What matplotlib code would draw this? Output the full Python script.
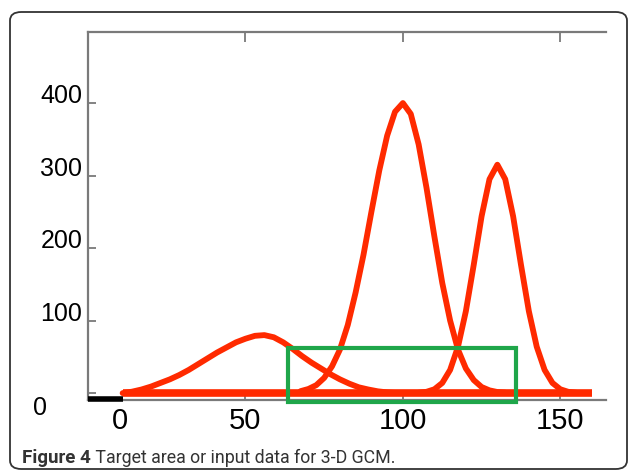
#Figura 4: area objetivo / datos de entrada para 3-D GCM

import matplotlib
matplotlib.use('Agg')
import matplotlib.pyplot as plt
from matplotlib.patches import FancyBboxPatch, Rectangle
from matplotlib.transforms import ScaledTranslation

# curva pequena (pico ~56)
x_chica = [11, 14, 17, 20, 23, 26, 29, 32, 35, 38, 41, 44, 47, 50, 53, 56, 59,
           62, 65, 68, 71, 74, 77, 80, 83, 86, 89, 92, 95, 98]
y_chica = [0, 2, 5, 9, 14, 19, 25, 32, 40, 48, 56, 63, 70, 75, 79, 80, 77,
           70, 61, 51, 42, 34, 26, 19, 13, 8, 5, 2.5, 1, 0]

# curva grande (pico 400 en 100)
x_grande = [67.5, 70, 72.5, 75, 77.5, 80, 82.5, 85, 87.5, 90, 92.5, 95, 97.5, 100,
            102.5, 105, 107.5, 110, 112.5, 115, 117.5, 120, 122.5, 125, 127.5, 130, 132.5]
y_grande = [2.7, 5.7, 11, 21, 37, 60, 94, 139, 191, 250, 307, 355, 388, 400,
            385, 343, 283, 216, 152, 100, 60, 34, 18, 8.4, 3.8, 1.5, 0.6]

# tercera curva (pico ~315 en 130)
x_tercera = [105, 107.5, 110, 112.5, 115, 117.5, 120, 122.5, 125, 127.5, 130,
             132.5, 135, 137.5, 140, 142.5, 145, 147.5, 150, 152.5, 155]
y_tercera = [0.5, 1.8, 5.3, 14, 32, 64, 113, 177, 244, 295, 315,
             295, 244, 177, 113, 64, 32, 14, 5.3, 1.8, 0.5]

# linea base
x_base = [11, 160]
y_base = [0, 0]
x_negra = [0, 11]
y_negra = [-8, -8]

# rectangulo verde (area objetivo)
rect_x0, rect_x1 = 63.5, 136
rect_y0, rect_y1 = -12, 62

xticks = [0, 50, 100, 150]
yticks = [0, 100, 200, 300, 400]

rojo = '#ff2a00'
verde = '#1fa64a'
gris = '#7a7a7a'

fig = plt.figure(figsize=(6.29, 4.74), dpi=100)

# marco redondeado
marco = FancyBboxPatch((10 / 629, 5 / 474), 617 / 629, 457 / 474,
                       boxstyle='round,pad=0,rounding_size=0.018',
                       transform=fig.transFigure, fill=False,
                       edgecolor='#333333', linewidth=1.3)
fig.patches.append(marco)

ax = fig.add_axes([88 / 629, 1 - 400 / 474, 518 / 629, 368 / 474])
ax.set_xlim(0, 164.5)
ax.set_ylim(-9.5, 498)

ax.plot(x_base, y_base, color=rojo, linewidth=5.5, solid_capstyle='butt', zorder=3)
ax.plot(x_negra, y_negra, color='black', linewidth=4, solid_capstyle='butt',
        clip_on=False, zorder=3)
for xs, ys in [(x_chica, y_chica), (x_grande, y_grande), (x_tercera, y_tercera)]:
    ax.plot(xs, ys, color=rojo, linewidth=4.2, solid_joinstyle='round',
            solid_capstyle='round', zorder=3)

ax.add_patch(Rectangle((rect_x0, rect_y0), rect_x1 - rect_x0, rect_y1 - rect_y0,
                       fill=False, edgecolor=verde, linewidth=3, clip_on=False,
                       zorder=4))

ax.spines['right'].set_visible(False)
for s in ['left', 'top', 'bottom']:
    ax.spines[s].set_color(gris)
    ax.spines[s].set_linewidth(1.6)

ax.set_xticks(xticks)
ax.set_xticklabels([str(v) for v in xticks])
ax.set_yticks(yticks)
ax.set_yticklabels([str(v) for v in yticks])
ax.tick_params(axis='x', direction='in', top=True, length=7, width=1.3,
               color=gris, labelsize=21, pad=5)
ax.tick_params(axis='y', direction='in', length=6, width=1.3, color=gris,
               labelsize=18, pad=4)

for lab in ax.get_xticklabels():
    lab.set_fontfamily('Liberation Sans')
    if lab.get_text() == '0':
        lab.set_transform(lab.get_transform() +
                          ScaledTranslation(32 / 100, 0, fig.dpi_scale_trans))
for lab in ax.get_yticklabels():
    lab.set_fontfamily('Liberation Sans')
    lab.set_verticalalignment('baseline')
    if lab.get_text() == '0':
        lab.set_verticalalignment('top')
        lab.set_transform(lab.get_transform() +
                          ScaledTranslation(-35 / 100, -3 / 100, fig.dpi_scale_trans))

# pie de figura
t1 = fig.text(22 / 629, 1 - 463 / 474, 'Figure 4', fontsize=13.5, fontweight='bold',
              family='Roboto', color='#333333', va='baseline')
fig.add_artist(plt.Annotation(' Target area or input data for 3-D GCM.',
                              xy=(1, 0), xycoords=t1, va='bottom',
                              fontsize=12.8, family='Roboto', color='#333333'))

fig.savefig('out.png', dpi=100)
